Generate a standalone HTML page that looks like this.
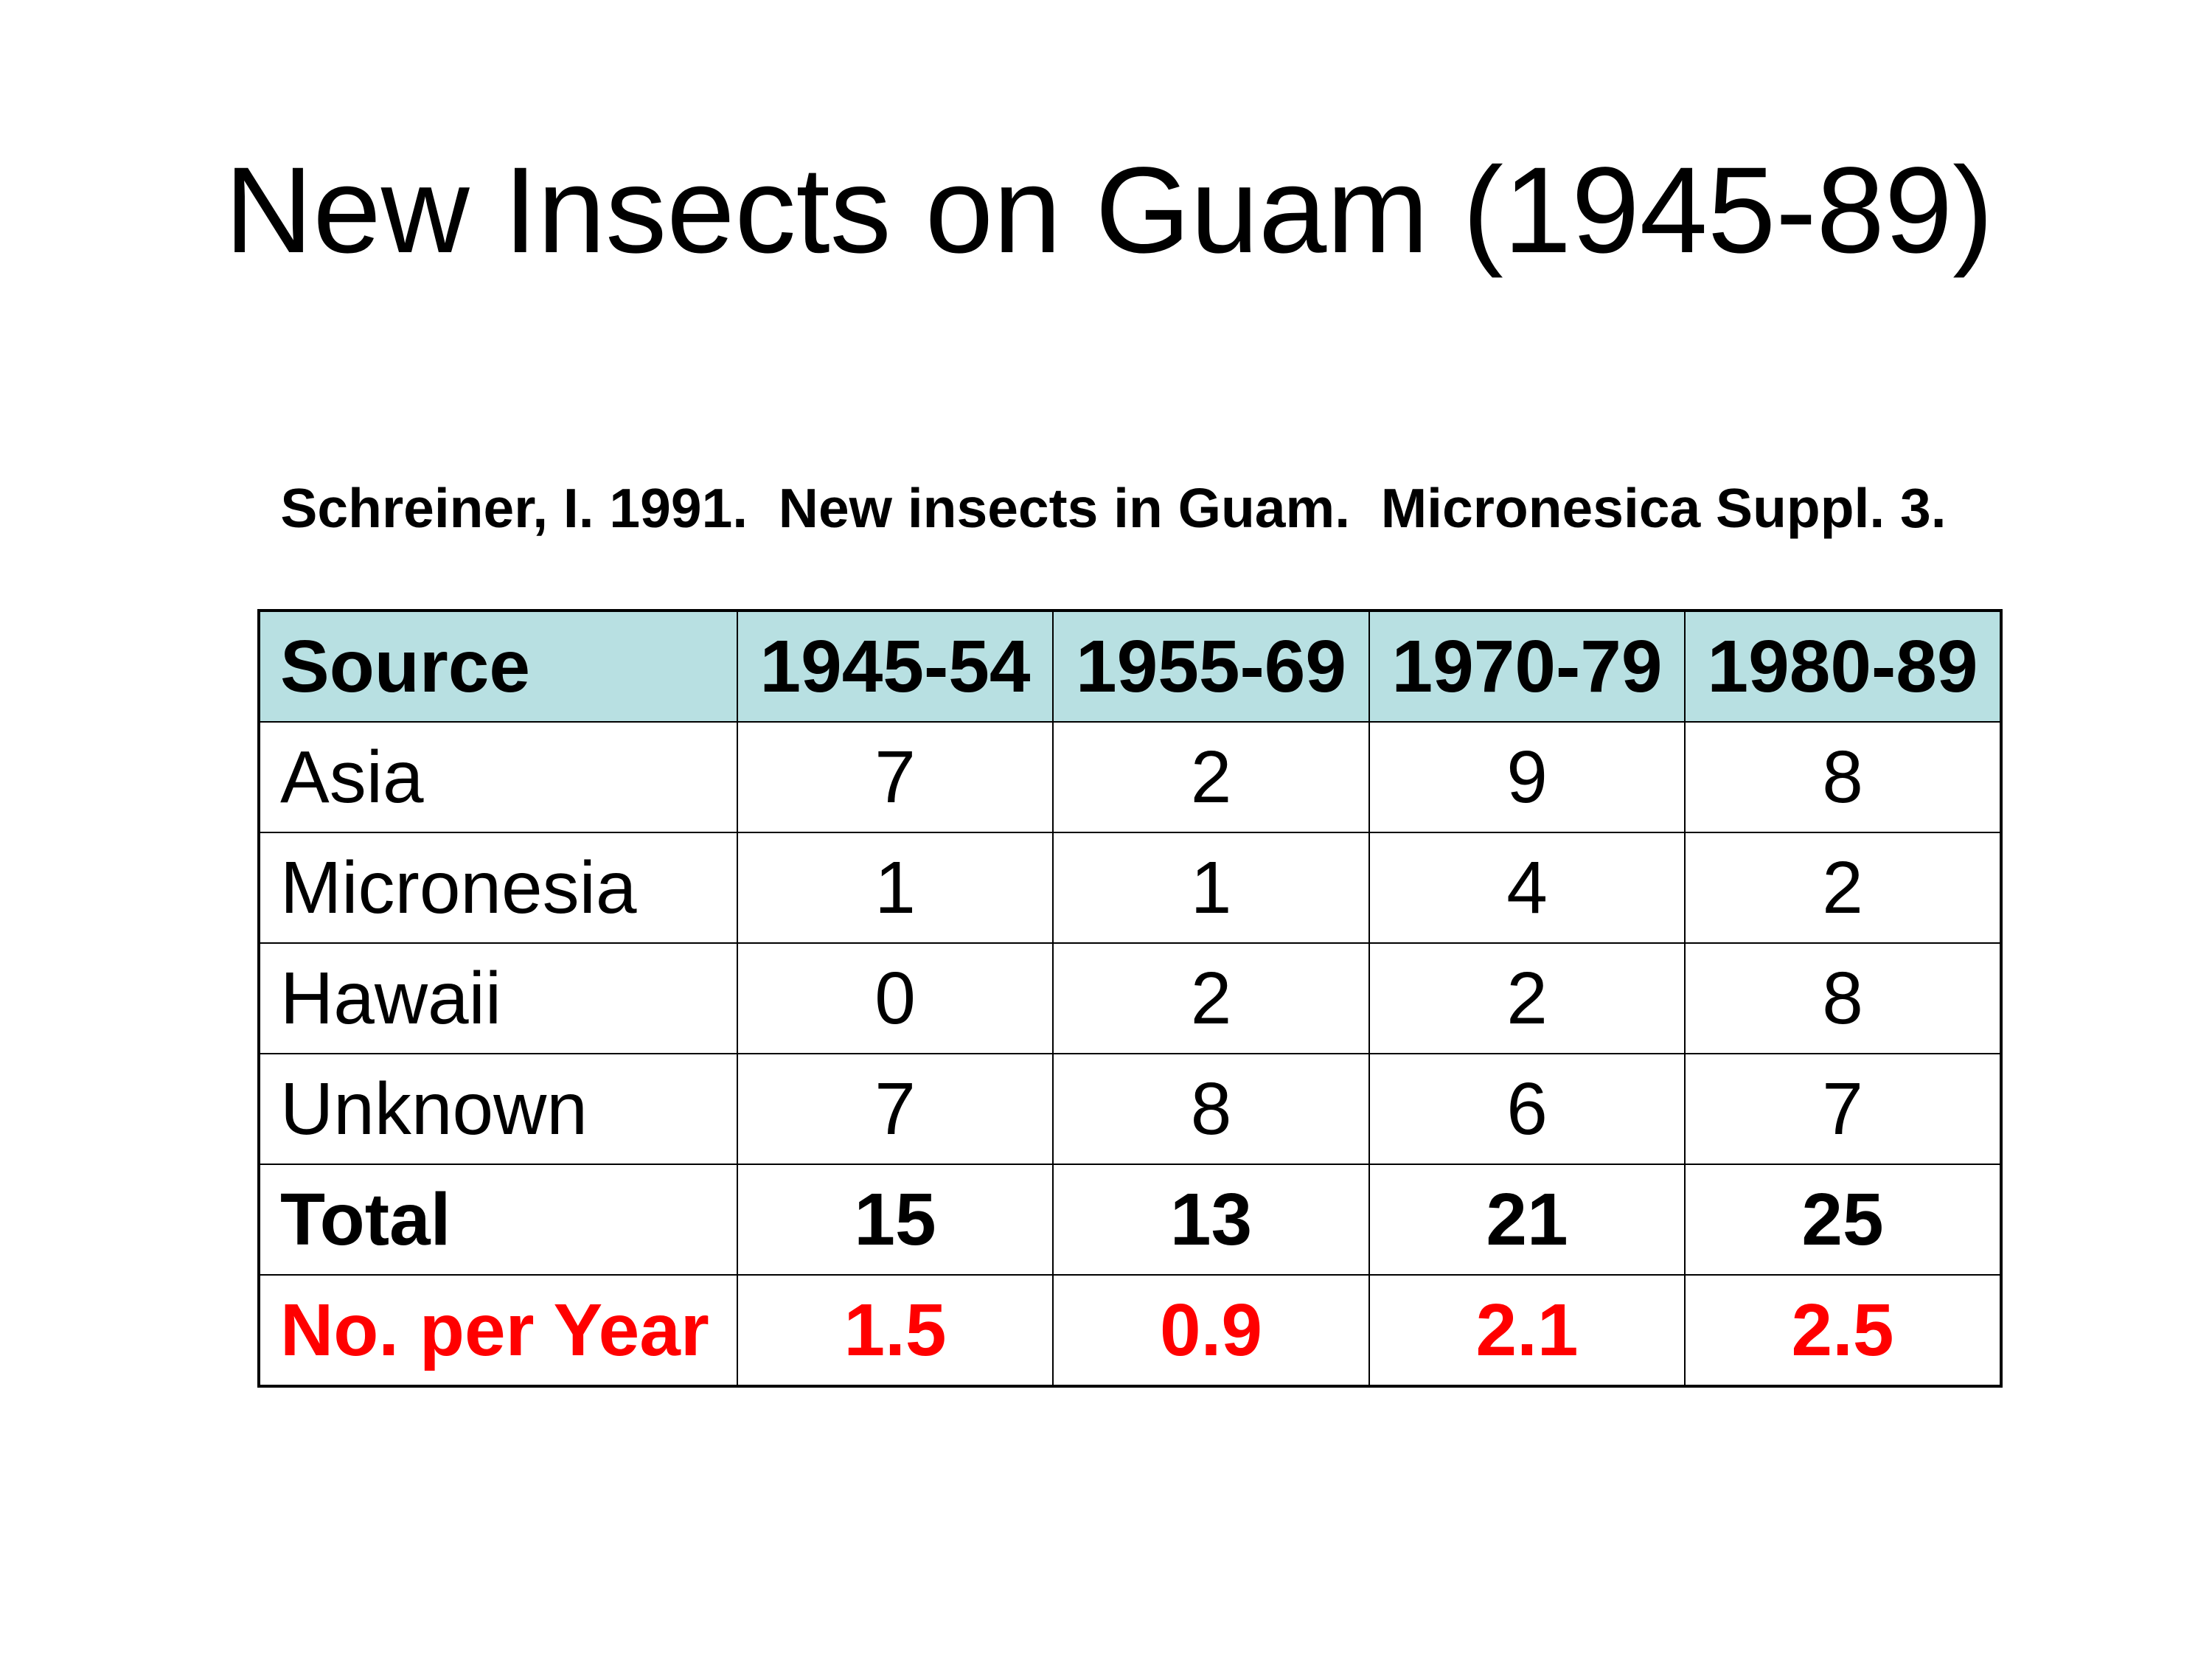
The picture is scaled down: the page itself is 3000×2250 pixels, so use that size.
<!DOCTYPE html>
<html><head><meta charset="utf-8">
<style>
html,body{margin:0;padding:0;background:#fff;}
body{width:3000px;height:2250px;position:relative;overflow:hidden;font-family:"Liberation Sans",Arial,sans-serif;color:#000;}
.t{position:absolute;left:0;width:3000px;text-align:center;line-height:1;white-space:nowrap;}
table{position:absolute;left:349px;top:826px;border-collapse:collapse;border:4px solid #000;}
td{height:148px;border:2px solid #000;font-size:100px;text-align:center;padding:0;vertical-align:middle;}
td:first-child{text-align:left;padding-left:27px;}
tr.h td{background:#b8e0e2;font-weight:bold;}
tr.b td{font-weight:bold;}
tr.r td{font-weight:bold;color:#ff0000;}
</style></head><body>
<div class="t" style="top:203px;font-size:166px;left:4px;">New Insects on Guam (1945-89)</div>
<div class="t" style="top:652px;font-size:75px;font-weight:bold;left:10px;">Schreiner, I. 1991.&nbsp; New insects in Guam.&nbsp; Micronesica Suppl. 3.</div>
<table>
<colgroup><col style="width:649px"><col style="width:428px"><col style="width:429px"><col style="width:428px"><col style="width:429px"></colgroup>
<tr class="h"><td>Source</td><td>1945-54</td><td>1955-69</td><td>1970-79</td><td>1980-89</td></tr>
<tr><td>Asia</td><td>7</td><td>2</td><td>9</td><td>8</td></tr>
<tr><td>Micronesia</td><td>1</td><td>1</td><td>4</td><td>2</td></tr>
<tr><td>Hawaii</td><td>0</td><td>2</td><td>2</td><td>8</td></tr>
<tr><td>Unknown</td><td>7</td><td>8</td><td>6</td><td>7</td></tr>
<tr class="b"><td>Total</td><td>15</td><td>13</td><td>21</td><td>25</td></tr>
<tr class="r"><td>No. per Year</td><td>1.5</td><td>0.9</td><td>2.1</td><td>2.5</td></tr>
</table>
</body></html>
